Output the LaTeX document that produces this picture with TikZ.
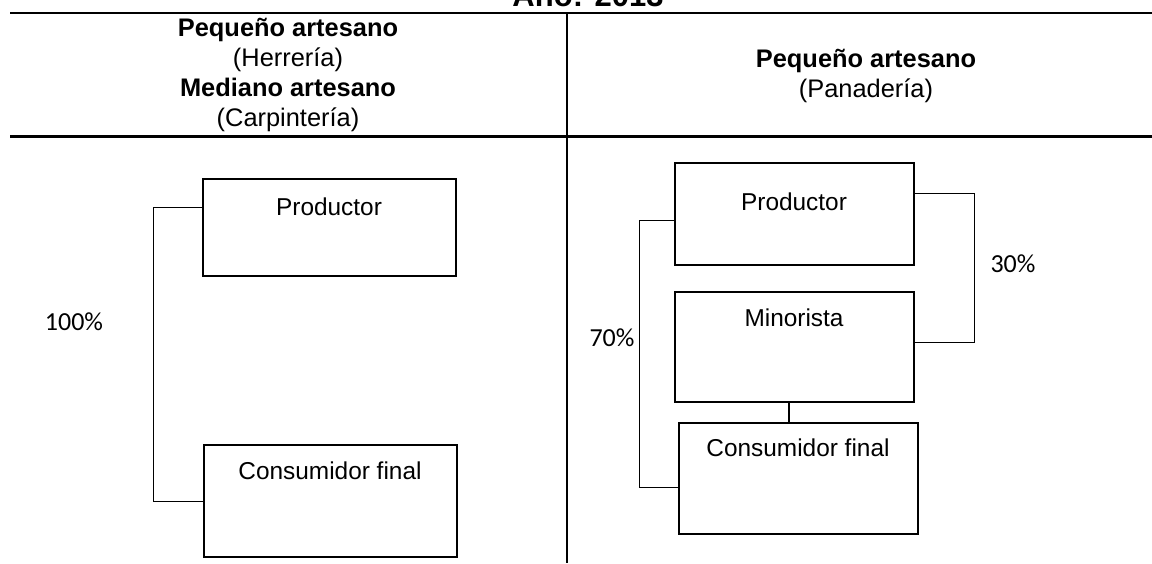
\documentclass[tikz,border=0pt]{standalone}
\usepackage{fontspec}
\setmainfont{Liberation Sans}
\newfontfamily\calib{Carlito}
\usetikzlibrary{fit,calc}
\begin{document}
\begin{tikzpicture}[x=0.5pt,y=-0.5pt,
  rule/.style={line width=1.1pt},
  box/.style={draw,line width=0.75pt,inner sep=0pt},
  link/.style={draw,line width=0.65pt},
  txt/.style={font=\fontsize{12.2}{14}\selectfont,inner sep=0pt},
  pct/.style={font=\calib\fontsize{13}{15}\selectfont,inner sep=0pt},
  head/.style={font=\fontsize{12.7}{15}\selectfont,align=center,inner sep=0pt}]
\clip (0,0) rectangle (1152,563);
% title (partly cut off)
\node[anchor=base,font=\bfseries\fontsize{15.5}{18}\selectfont,inner sep=0pt] (title) at (588,6) {Año: 2013};
% table rules
\draw[rule] (10,13) -- (1152,13);
\draw[rule] (10,136.5) -- (1152,136.5);
\draw[line width=1pt] (567,13) -- (567,563);
% headers
\node[head] (hL) at (288,75) {\textbf{Pequeño artesano}\\(Herrería)\\\textbf{Mediano artesano}\\(Carpintería)};
\node[head] (hR) at (866,76) {\textbf{Pequeño artesano}\\(Panadería)};
% left channel
\node[box,fit={(203,179) (456,276)}] (p1) {};
\node[box,fit={(204,445) (457,557)}] (c1) {};
\node[txt] (p1t) at (329,207) {Productor};
\node[txt] (c1t) at (330,471) {Consumidor final};
\draw[link] ($(p1.north west)+(0,29)$) -- ++(-49,0) |- ($(c1.north west)+(0,57)$);
\node[pct] (l100) at (74,322) {100\%};
% right channel
\node[box,fit={(675,163) (914,265)}] (p2) {};
\node[box,fit={(675,292) (914,402)}] (m2) {};
\node[box,fit={(679,423) (918,534)}] (c2) {};
\node[txt] (p2t) at (794,202) {Productor};
\node[txt] (m2t) at (794,318) {Minorista};
\node[txt] (c2t) at (798,448) {Consumidor final};
\draw[link] ($(p2.north west)+(0,58)$) -- ++(-35,0) |- ($(c2.north west)+(0,65)$);
\draw[link] ($(p2.north east)+(0,31)$) -- ++(60,0) |- ($(m2.north east)+(0,51)$);
\coordinate (mc) at ($(m2.south)+(-5.5,0)$);
\draw[link] (mc) -- (mc |- c2.north);
\node[pct] (l70) at (612,338) {70\%};
\node[pct] (l30) at (1013,264) {30\%};
\end{tikzpicture}
\end{document}
